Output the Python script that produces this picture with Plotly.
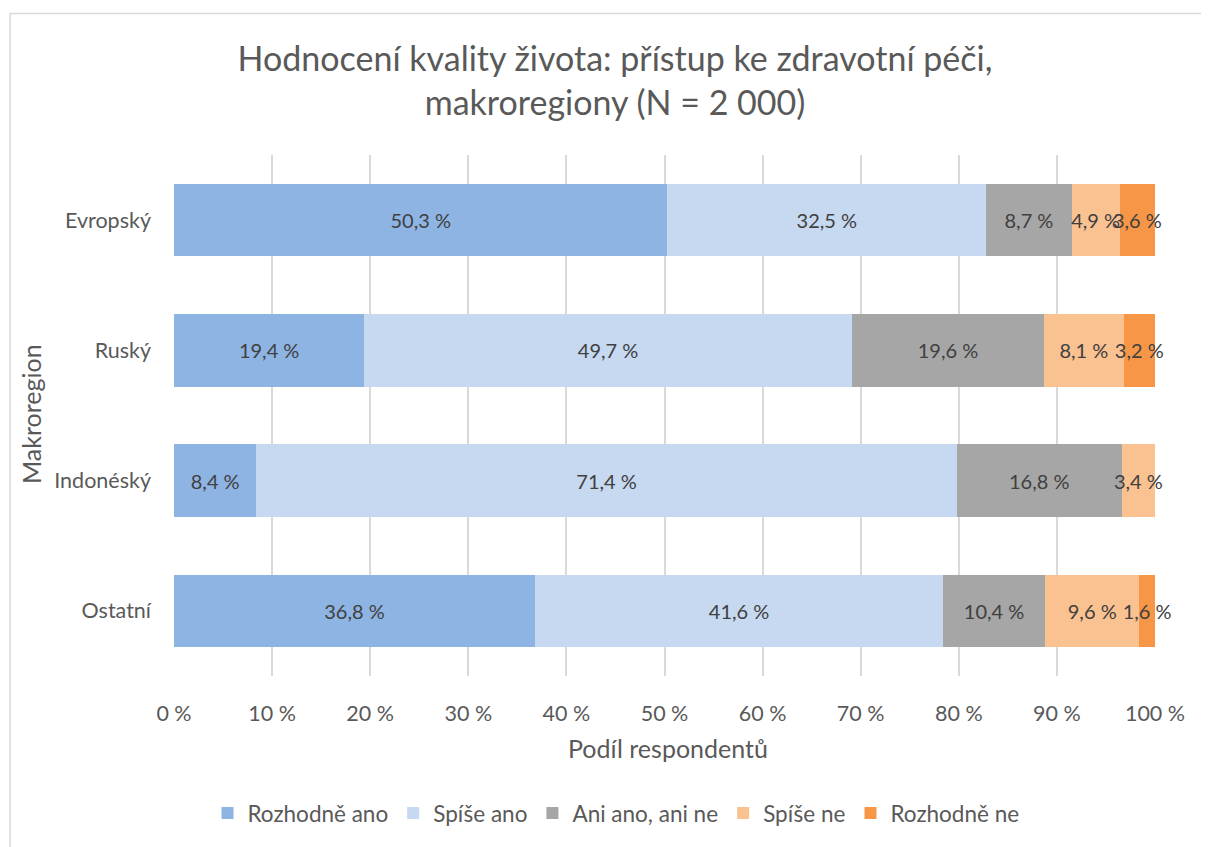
import plotly.graph_objects as go

categories = ["Evropský", "Ruský", "Indonéský", "Ostatní"]
series_names = ["Rozhodně ano", "Spíše ano", "Ani ano, ani ne", "Spíše ne", "Rozhodně ne"]
rozhodne_ano = [50.3, 19.4, 8.4, 36.8]
spise_ano = [32.5, 49.7, 71.4, 41.6]
ani_ano_ani_ne = [8.7, 19.6, 16.8, 10.4]
spise_ne = [4.9, 8.1, 3.4, 9.6]
rozhodne_ne = [3.6, 3.2, None, 1.6]
tick_values = [0, 10, 20, 30, 40, 50, 60, 70, 80, 90, 100]
tick_labels = ["0 %", "10 %", "20 %", "30 %", "40 %", "50 %", "60 %", "70 %", "80 %", "90 %", "100 %"]
colors = ["#8EB4E3", "#C6D9F1", "#A6A6A6", "#FAC191", "#F79646"]

series_values = [rozhodne_ano, spise_ano, ani_ano_ani_ne, spise_ne, rozhodne_ne]

FONT = "Lato"
OFF = 8  # page body margin
W, H = 1209 - OFF, 847 - OFF
# reference pixel coordinates of the plot area
PL, PR, PT, PB = 174, 1155, 155, 678
L, T = PL - OFF, PT - OFF
R = W - (PR - OFF)
B = H - (PB - OFF)
pw, ph = PR - PL, PB - PT

def px_x(x):
    return (x - PL) / pw

def px_y(y):
    return (PB - y) / ph

fig = go.Figure()
for name, vals, col in zip(series_names, series_values, colors):
    texts = [("" if v is None else f"{v:.1f} %".replace(".", ",")) for v in vals]
    fig.add_trace(go.Bar(
        y=categories, x=vals, name=name, orientation="h",
        marker=dict(color=col, line=dict(width=0)),
        text=texts, textposition="inside", insidetextanchor="middle",
        textangle=0,
        textfont=dict(family=FONT, size=20, color="#404040"),
        constraintext="none", cliponaxis=False,
    ))

fig.update_layout(
    width=W, height=H,
    barmode="stack", bargap=0.442,
    paper_bgcolor="white", plot_bgcolor="white",
    margin=dict(l=L, r=R, t=T, b=B),
    font=dict(family=FONT, color="#595959", size=21),
    uniformtext=dict(minsize=20, mode="show"),
    title=dict(
        text="Hodnocení kvality života: přístup ke zdravotní péči,<br>makroregiony (N = 2 000)",
        x=(615 - OFF) / W, xanchor="center", xref="container",
        y=1 - (71 - OFF) / H, yanchor="middle", yref="container",
        font=dict(family=FONT, size=34, color="#595959"),
    ),
    xaxis=dict(
        range=[0, 100.0005], tickmode="array", tickvals=tick_values, ticktext=tick_labels,
        showgrid=True, gridcolor="#D9D9D9", gridwidth=1.5,
        zeroline=False, showline=False,
        tickfont=dict(family=FONT, size=21.5, color="#595959"),
        ticklabelstandoff=22,
    ),
    yaxis=dict(
        categoryorder="array", categoryarray=categories, autorange="reversed",
        showgrid=False, zeroline=False, showline=False,
        tickfont=dict(family=FONT, size=21.5, color="#595959"),
        ticklabelstandoff=22,
    ),
    legend=dict(
        orientation="h", x=px_x(616), xanchor="center",
        y=px_y(816), yanchor="middle",
        font=dict(family=FONT, size=22.5, color="#595959"),
        traceorder="normal", itemwidth=30,
    ),
    annotations=[
        dict(text="Podíl respondentů", xref="paper", yref="paper",
             x=px_x(668), y=px_y(750), showarrow=False,
             xanchor="center", yanchor="middle",
             font=dict(family=FONT, size=25, color="#595959")),
        dict(text="Makroregion", xref="paper", yref="paper",
             x=px_x(31), y=px_y(415), showarrow=False, textangle=-90,
             xanchor="center", yanchor="middle",
             font=dict(family=FONT, size=25, color="#595959")),
    ],
    shapes=[
        dict(type="rect", xref="paper", yref="paper",
             x0=px_x(10), x1=px_x(1230), y0=px_y(880), y1=px_y(13),
             line=dict(color="#D9D9D9", width=1.5), fillcolor="rgba(0,0,0,0)",
             layer="below"),
    ],
)

fig.write_html("out.html")
